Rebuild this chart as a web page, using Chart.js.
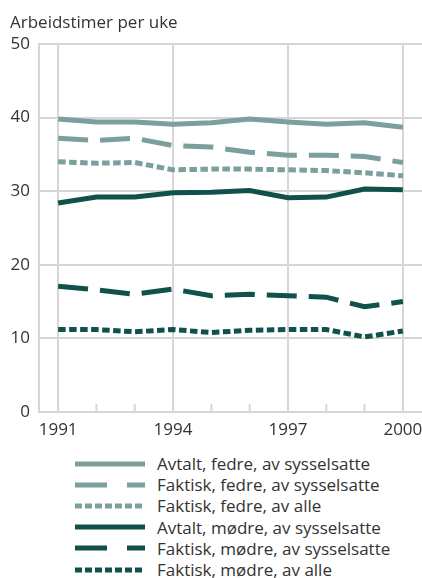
<!DOCTYPE html>
<html>
<head>
<meta charset="utf-8">
<script src="https://cdn.jsdelivr.net/npm/chart.js@4"></script>
<style>
  body { margin: 0; background: #fff; font-family: "Open Sans", sans-serif; color: #333; }
  #wrap { position: relative; width: 422px; height: 578px; overflow: hidden; }
  #tittel { position: absolute; left: 10px; top: 10px; font-size: 17px; color: #333; }
  #chart { position: absolute; left: 0; top: 0; }
  #legend { position: absolute; left: 75px; top: 453px; }
  .rad { height: 21.2px; display: flex; align-items: center; font-size: 17px; color: #333; }
  .rad svg { width: 70px; height: 10px; margin-right: 12px; }
</style>
</head>
<body>
<div id="wrap">
  <canvas id="chart" width="422" height="445"></canvas>
  <div id="tittel">Arbeidstimer per uke</div>
  <div id="legend"></div>
</div>
<script>
// Data
const aar = ['1991', '1992', '1993', '1994', '1995', '1996', '1997', '1998', '1999', '2000'];
const avtaltFedre = [39.8, 39.4, 39.4, 39.1, 39.3, 39.8, 39.4, 39.1, 39.3, 38.7];
const faktiskFedre = [37.2, 36.9, 37.2, 36.2, 36.0, 35.3, 34.9, 34.9, 34.7, 33.9];
const faktiskFedreAlle = [34.0, 33.8, 33.9, 32.9, 33.0, 33.0, 32.9, 32.8, 32.5, 32.1];
const avtaltModre = [28.4, 29.2, 29.2, 29.8, 29.85, 30.1, 29.1, 29.2, 30.3, 30.2];
const faktiskModre = [17.1, 16.6, 16.0, 16.7, 15.8, 16.0, 15.8, 15.6, 14.3, 15.0];
const faktiskModreAlle = [11.2, 11.2, 10.9, 11.2, 10.8, 11.1, 11.2, 11.2, 10.2, 11.0];

const lys = '#7a9f9c';
const mork = '#10514b';
const grid = '#d6d6d6';

const serier = [
    { label: 'Avtalt, fedre, av sysselsatte', data: avtaltFedre, farge: lys, dash: [], legDash: '' },
    { label: 'Faktisk, fedre, av sysselsatte', data: faktiskFedre, farge: lys, dash: [30, 12], legDash: '32 20' },
    { label: 'Faktisk, fedre, av alle', data: faktiskFedreAlle, farge: lys, dash: [7.5, 3.5], legDash: '7 3' },
    { label: 'Avtalt, mødre, av sysselsatte', data: avtaltModre, farge: mork, dash: [], legDash: '' },
    { label: 'Faktisk, mødre, av sysselsatte', data: faktiskModre, farge: mork, dash: [30, 12], legDash: '32 20' },
    { label: 'Faktisk, mødre, av alle', data: faktiskModreAlle, farge: mork, dash: [7.5, 3.5], legDash: '7 3' }
];

// Små tikkstreker for årene uten rutenettlinje
const smaaTikk = {
    id: 'smaaTikk',
    beforeDatasetsDraw(chart) {
        const x = chart.scales.x;
        const bunn = chart.chartArea.bottom;
        const ctx = chart.ctx;
        ctx.save();
        ctx.strokeStyle = grid;
        ctx.lineWidth = 2;
        aar.forEach((a, i) => {
            if (i % 3 === 0) return;
            const px = x.getPixelForValue(i);
            ctx.beginPath();
            ctx.moveTo(px, bunn);
            ctx.lineTo(px, bunn - 8);
            ctx.stroke();
        });
        ctx.restore();
    }
};

new Chart(document.getElementById('chart'), {
    type: 'line',
    data: {
        labels: aar,
        datasets: serier.map(s => ({
            label: s.label,
            data: s.data,
            borderColor: s.farge,
            backgroundColor: s.farge,
            borderWidth: 5,
            borderDash: s.dash,
            borderCapStyle: 'butt',
            pointRadius: 0,
            tension: 0
        }))
    },
    options: {
        responsive: false,
        animation: false,
        layout: { padding: { top: 44, left: 0, right: 0, bottom: 0 } },
        plugins: {
            legend: { display: false },
            tooltip: { enabled: false }
        },
        scales: {
            x: {
                offset: true,
                afterFit: (s) => { s.height = 33; s.paddingLeft = 0; s.paddingRight = 0; },
                grid: {
                    color: (c) => c.index % 3 === 0 ? grid : 'rgba(0,0,0,0)',
                    lineWidth: 2,
                    drawTicks: false
                },
                border: { display: true, color: grid, width: 2 },
                ticks: {
                    autoSkip: false,
                    maxRotation: 0,
                    padding: 8,
                    color: '#333',
                    font: { family: 'Open Sans', size: 17 },
                    callback: (v, i) => i % 3 === 0 ? aar[i] : ''
                }
            },
            y: {
                min: 0,
                max: 50,
                afterFit: (s) => { s.width = 39; },
                grid: { color: grid, lineWidth: 2, drawTicks: false },
                border: { display: true, color: grid, width: 2 },
                ticks: {
                    stepSize: 10,
                    padding: 9,
                    color: '#333',
                    font: { family: 'Open Sans', size: 17 }
                }
            }
        }
    },
    plugins: [smaaTikk]
});

// Tegnforklaring
const legend = document.getElementById('legend');
serier.forEach(s => {
    const rad = document.createElement('div');
    rad.className = 'rad';
    rad.innerHTML = `<svg viewBox="0 0 70 10"><line x1="0" y1="5" x2="70" y2="5" stroke="${s.farge}" stroke-width="5" ${s.legDash ? `stroke-dasharray="${s.legDash}"` : ''}/></svg><span>${s.label}</span>`;
    legend.appendChild(rad);
});
</script>
</body>
</html>
